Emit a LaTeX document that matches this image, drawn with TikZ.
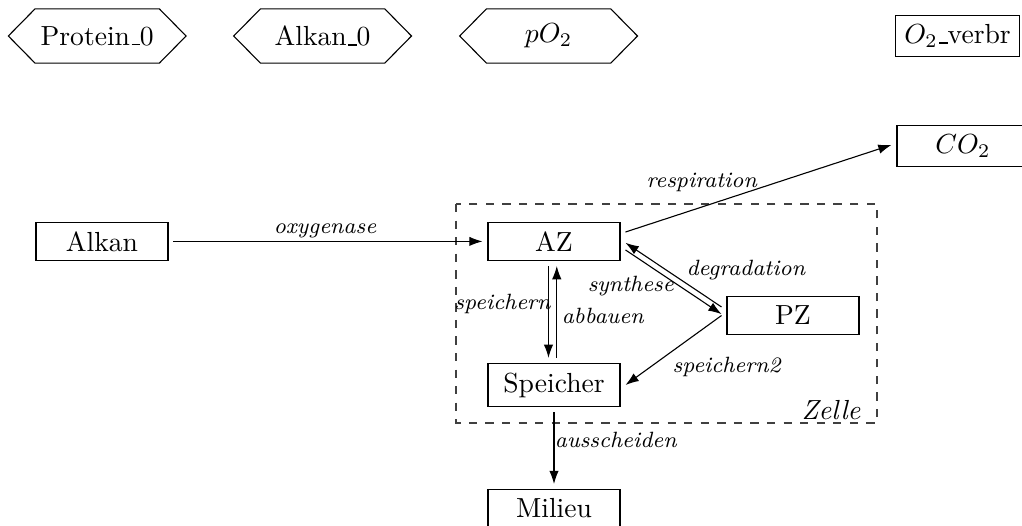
\documentclass[tikz,border=0pt]{standalone}
\usetikzlibrary{arrows.meta,calc}
% short underscore rule, as in classic LaTeX text fonts
\newcommand\lowrule{\leavevmode\kern.06em\vbox{\hrule width.3em}}
\begin{document}
\begin{tikzpicture}[x=0.3623pt, y=-0.3623pt,
  box/.style={draw, rectangle, minimum width=47.8pt, outer sep=2pt},
  hexnode/.style={minimum width=64pt, minimum height=19.3pt, inner sep=0pt},
  hexline/.style={draw, line join=miter},
  flow/.style={-{Latex[length=4.8pt,width=3.4pt]}},
  lbl/.style={font=\footnotesize\itshape, anchor=base, inner sep=0pt},
  region/.style={draw=black!75, dashed}]
\useasboundingbox (0,0) rectangle (1022,525);

% parameter hexagons
\node[hexnode] (prot) at (97.2,36)  {Protein\lowrule 0};
\node[hexnode] (alk0) at (322.6,36) {Alkan\lowrule 0};
\node[hexnode] (po2)  at (548.6,36) {$pO_2$};
\foreach \n in {prot,alk0,po2}
  \draw[hexline] (\n.west) -- ([xshift=9.7pt]\n.north west)
    -- ([xshift=-9.7pt]\n.north east) -- (\n.east)
    -- ([xshift=-9.7pt]\n.south east) -- ([xshift=9.7pt]\n.south west) -- cycle;

% output quantity
\node[draw, rectangle, outer sep=2pt] (o2v) at (957.5,36) {$O_2$\lowrule verbr};

% cell compartment
\draw[region] (456,204) rectangle (877,423);
\node[font=\itshape, anchor=base, inner sep=0pt] (zelle) at (831,419.3) {Zelle};

% pools
\node[box] (alkan)    at (102,241.4)  {Alkan};
\node[box] (az)       at (554,241.4)  {AZ};
\node[box] (pz)       at (793,315.5)  {PZ};
\node[box] (speicher) at (554,385)    {Speicher};
\node[box] (milieu)   at (554,508.5)  {Milieu};
\node[box] (co2)      at (963,146)    {$CO_2$};

% fluxes
\draw[flow] (alkan) -- node[lbl, shift={(-3,-8.1)}] {oxygenase} (az);
\draw[flow] ([yshift=3.4pt]az.east) -- node[lbl, shift={(-56.8,-0.5)}] {respiration} ([yshift=0.4pt]co2.west);
\draw[flow] ([yshift=3.1pt]pz.west) -- node[lbl, shift={(72.3,0.75)}] {degradation} ([yshift=-0.5pt]az.east);
\draw[flow] ([yshift=-3.1pt]az.east) -- node[lbl, shift={(-42.7,9.7)}] {synthese} ([yshift=0.5pt]pz.west);
\draw[flow] ([xshift=-2pt]az.south) -- node[lbl, shift={(-46,-2.2)}] {speichern} ([xshift=-2pt]speicher.north);
\draw[flow] ([xshift=1pt]speicher.north) -- node[lbl, shift={(46,11.2)}] {abbauen} ([xshift=1pt]az.south);
\draw[flow] (pz.west) -- node[lbl, shift={(53.2,22.4)}] {speichern2} (speicher.east);
\draw[flow] (speicher.south) -- node[lbl, shift={(61.8,-0.8)}] {ausscheiden} (milieu.north);
\end{tikzpicture}
\end{document}
